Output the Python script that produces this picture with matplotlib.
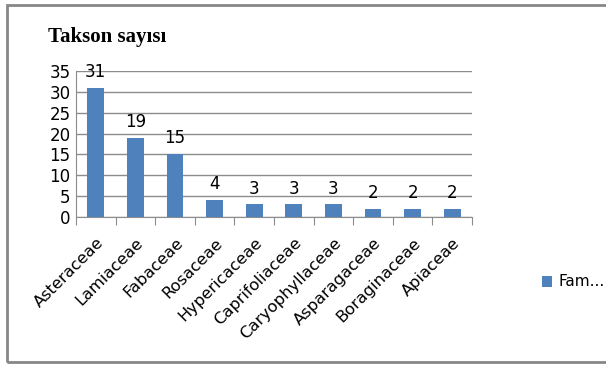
import matplotlib
matplotlib.use("Agg")
import matplotlib.pyplot as plt
from matplotlib.patches import Rectangle

categories = ["Asteraceae", "Lamiaceae", "Fabaceae", "Rosaceae", "Hypericaceae",
              "Caprifoliaceae", "Caryophyllaceae", "Asparagaceae", "Boraginaceae", "Apiaceae"]
values = [31, 19, 15, 4, 3, 3, 3, 2, 2, 2]
yticks = [0, 5, 10, 15, 20, 25, 30, 35]
title = "Takson sayısı"
legend_label = "Fam..."

fig = plt.figure(figsize=(6.06, 3.65), dpi=100)
fig.patch.set_facecolor("white")
# outer frame
fig.add_artist(Rectangle((7/606, 3/365), 1.2, 357/365, transform=fig.transFigure,
                         fill=False, edgecolor="#878787", linewidth=2))

ax = fig.add_axes([76/606, 1-217/365, (472-76)/606, (217-71)/365])
x = list(range(len(categories)))
bars = ax.bar(x, values, width=0.42, color="#4F81BD", zorder=3, label=legend_label)
ax.set_xlim(-0.5, len(categories)-0.5)
ax.set_ylim(0, 35)
ax.set_yticks(yticks)
ax.set_yticklabels([str(t) for t in yticks], fontsize=12, family="DejaVu Sans")
ax.yaxis.grid(True, color="#8c8c8c", linewidth=1, zorder=0)
ax.set_axisbelow(True)
for s in ["top", "right"]:
    ax.spines[s].set_visible(False)
ax.spines["left"].set_color("#8c8c8c")
ax.spines["bottom"].set_color("#8c8c8c")
ax.tick_params(axis="y", length=0, pad=4)
# category tick marks at boundaries
ax.set_xticks([i - 0.5 for i in range(len(categories)+1)], minor=False)
ax.set_xticklabels([])
ax.tick_params(axis="x", which="major", length=6, color="#8c8c8c", direction="out")
ax.set_xticks(x, minor=True)
ax.set_xticklabels(categories, minor=True, rotation=45, ha="right", rotation_mode="anchor",
                   fontsize=11.7, family="DejaVu Sans")
ax.tick_params(axis="x", which="minor", length=0, pad=13)

for xi, v in zip(x, values):
    ax.annotate(str(v), (xi, v), xytext=(0, 5), textcoords="offset points",
                ha="center", va="bottom", fontsize=12, family="DejaVu Sans")

fig.text(48/606, 1-37/365, title, fontsize=15, fontweight="bold", family="Liberation Serif",
         va="center", ha="left")

leg = fig.legend(handles=[bars], labels=[legend_label], loc="center left",
                 bbox_to_anchor=(528/606, 1-282/365), frameon=False, fontsize=11,
                 handlelength=0.7, handleheight=0.7, handletextpad=0.4)

fig.savefig("out.png", dpi=100)
